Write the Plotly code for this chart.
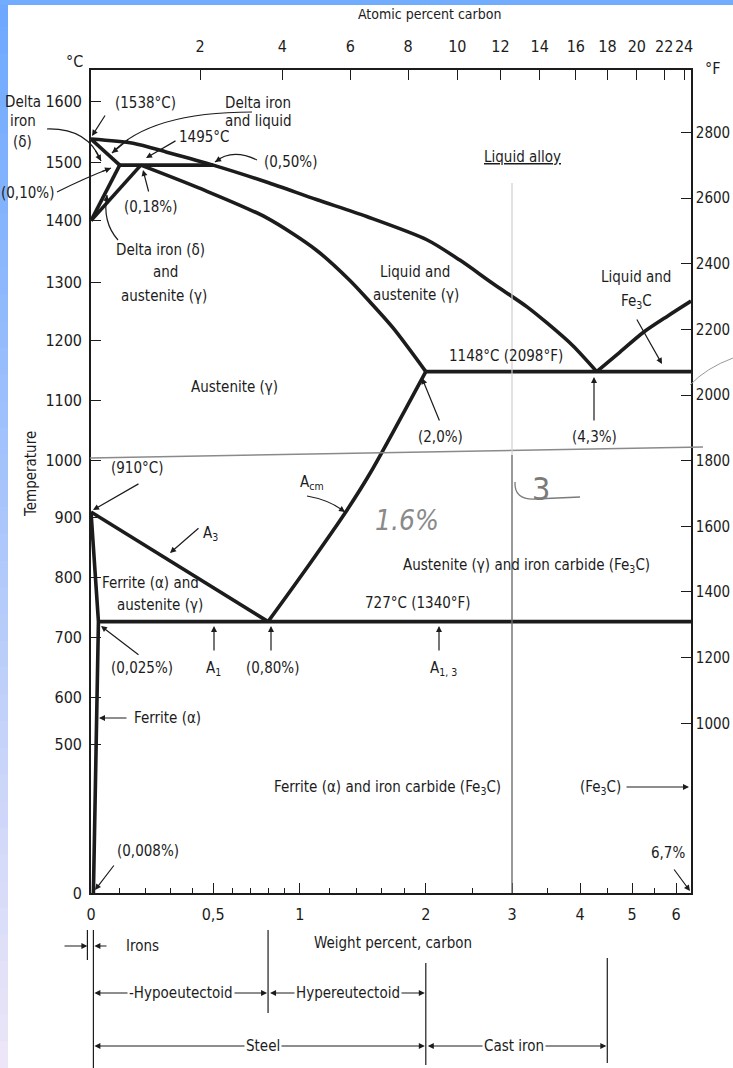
import numpy as np
import plotly.graph_objects as go

# --- printed axis scales (the original chart is non-linear in both directions) ---
WT_SCALE = [0, 1, 2, 3, 4, 5, 6, 6.67]                 # weight percent carbon
WT_SCALE_POS = [0, 0.348, 0.558, 0.702, 0.815, 0.902, 0.975, 1.0]
T_SCALE = [0, 500, 600, 700, 800, 900, 1000, 1100, 1200, 1300, 1400, 1500, 1600, 1652]
T_SCALE_POS = [0, 0.180, 0.238, 0.310, 0.383, 0.456, 0.526, 0.599, 0.671, 0.742,
               0.817, 0.888, 0.962, 1.0]
F_RANGE = [483, 2990]                                   # right axis is linear in deg F

# --- ticks ---
WT_TICKS = [0, 0.5, 1, 2, 3, 4, 5, 6]
WT_TICK_LABELS = ["0", "0,5", "1", "2", "3", "4", "5", "6"]
WT_MINOR = [0.1, 0.2, 0.3, 0.4, 0.6, 0.7, 0.8, 0.9, 1.2, 1.4, 1.6, 1.8, 2.5, 3.5, 4.5, 5.5]
AT_TICKS = [2, 4, 6, 8, 10, 12, 14, 16, 18, 20, 22, 24]
C_TICKS = [0, 500, 600, 700, 800, 900, 1000, 1100, 1200, 1300, 1400, 1500, 1600]
F_TICKS = [1000, 1200, 1400, 1600, 1800, 2000, 2200, 2400, 2600, 2800]

# --- phase boundaries (wt % C, deg C) ---
LIQUIDUS_WT = [0, 0.15, 0.29, 0.5, 0.79, 1.11, 1.48, 2.01, 2.36, 2.75, 3.2, 3.49, 3.88, 4.3]
LIQUIDUS_T = [1538, 1531, 1516, 1495, 1466, 1436, 1407, 1369, 1336, 1298, 1258, 1230, 1192, 1148]
FE3C_LIQ_WT = [4.3, 4.75, 5.25, 5.81, 6.67]
FE3C_LIQ_T = [1148, 1181, 1215, 1243, 1268]
AUST_SOLIDUS_WT = [0.18, 0.43, 0.79, 1.11, 1.35, 1.5, 1.7, 2.0]
AUST_SOLIDUS_T = [1495, 1456, 1405, 1352, 1303, 1268, 1222, 1148]
DELTA_SOLIDUS_WT = [0, 0.10]
DELTA_SOLIDUS_T = [1538, 1495]
PERITECTIC_WT = [0.10, 0.50]
PERITECTIC_T = [1495, 1495]
DELTA_SOLVUS_WT = [0.10, 0]
DELTA_SOLVUS_T = [1495, 1400]
GAMMA_DELTA_WT = [0.18, 0]
GAMMA_DELTA_T = [1495, 1400]
EUTECTIC_WT = [2.0, 6.67]
EUTECTIC_T = [1148, 1148]
ACM_WT = [0.8, 1.0, 1.33, 1.51, 2.0]
ACM_T = [727, 800, 914, 978, 1148]
A3_WT = [0, 0.8]
A3_T = [910, 727]
ALPHA_WT = [0, 0.025, 0.008]
ALPHA_T = [910, 727, 0]
EUTECTOID_WT = [0.025, 6.67]
EUTECTOID_T = [727, 727]

# class limits shown under the chart
IRON_LIMIT, EUTECTOID_WT_PCT, STEEL_LIMIT, CAST_LIMIT = 0.008, 0.8, 2.0, 4.5

INK = "#1c1c1c"
FONT = "Liberation Sans Narrow, Arial Narrow, DejaVu Sans Condensed, Liberation Sans, sans-serif"
W, H = 733, 1068
L, R, T, B = 91, 691, 70, 893   # plot frame in page pixels


def xu(wt):
    return np.interp(np.log1p(np.asarray(wt, float)), np.log1p(WT_SCALE), WT_SCALE_POS)


def yv(t):
    return np.interp(np.asarray(t, float), T_SCALE, T_SCALE_POS)


def at_to_wt(at):
    at = np.asarray(at, float)
    return 100 * 12 * at / (12 * at + 55.85 * (100 - at))


def pp(x, y):
    return (x - L) / (R - L), (B - y) / (B - T)


def xpix(wt):
    return L + float(xu(wt)) * (R - L)


fig = go.Figure()

curved = [(LIQUIDUS_WT, LIQUIDUS_T), (FE3C_LIQ_WT, FE3C_LIQ_T),
          (AUST_SOLIDUS_WT, AUST_SOLIDUS_T), (ACM_WT, ACM_T)]
straight = [(DELTA_SOLIDUS_WT, DELTA_SOLIDUS_T), (PERITECTIC_WT, PERITECTIC_T),
            (DELTA_SOLVUS_WT, DELTA_SOLVUS_T), (GAMMA_DELTA_WT, GAMMA_DELTA_T),
            (EUTECTIC_WT, EUTECTIC_T), (A3_WT, A3_T), (ALPHA_WT, ALPHA_T),
            (EUTECTOID_WT, EUTECTOID_T)]
for group, shape in ((curved, "spline"), (straight, "linear")):
    for wt, temp in group:
        fig.add_trace(go.Scatter(
            x=xu(wt), y=yv(temp), mode="lines",
            line=dict(color=INK, width=3.6, shape=shape, smoothing=0.8),
            cliponaxis=False, hoverinfo="skip",
        ))
# carrier trace for the top / right axes
fig.add_trace(go.Scatter(x=[], y=[], xaxis="x2", yaxis="y2", hoverinfo="skip"))

annotations, shapes = [], []


def label(text, x, y, size=15, color=INK, **kw):
    xp, yp = pp(x, y)
    annotations.append(dict(text=text, x=xp, y=yp, xref="paper", yref="paper",
                            xanchor="center", yanchor="middle", showarrow=False,
                            font=dict(size=size, family=FONT, color=color), **kw))


def arrow(tail, head, width=1.2):
    hx, hy = pp(*head)
    annotations.append(dict(text="", x=hx, y=hy, xref="paper", yref="paper",
                            ax=tail[0] - head[0], ay=tail[1] - head[1],
                            axref="pixel", ayref="pixel", showarrow=True, arrowhead=2,
                            arrowsize=1, arrowwidth=width, arrowcolor=INK, standoff=0))


def line(p0, p1, color=INK, width=1.2):
    (x0, y0), (x1, y1) = pp(*p0), pp(*p1)
    shapes.append(dict(type="line", xref="paper", yref="paper", x0=x0, y0=y0, x1=x1, y1=y1,
                       line=dict(color=color, width=width)))


def curve(p0, c, p1, color=INK, width=1.2, head=True):
    (x0, y0), (cx, cy), (x1, y1) = pp(*p0), pp(*c), pp(*p1)
    shapes.append(dict(type="path", xref="paper", yref="paper",
                       path=f"M{x0},{y0} Q{cx},{cy} {x1},{y1}",
                       line=dict(color=color, width=width)))
    if head:
        t = 0.8
        bx = (1 - t) ** 2 * p0[0] + 2 * (1 - t) * t * c[0] + t * t * p1[0]
        by = (1 - t) ** 2 * p0[1] + 2 * (1 - t) * t * c[1] + t * t * p1[1]
        arrow((bx, by), p1)


def span(x0, x1, y, text, cx):
    arrow((cx, y), (x0, y))
    arrow((cx, y), (x1, y))
    label(text, cx, y, bgcolor="white", borderpad=1)


# page decoration (blue slide border)
top_c, bot_c = np.array([110, 169, 255]), np.array([236, 230, 248])
n = 40
for i in range(n):
    c = top_c + (bot_c - top_c) * (i / (n - 1))
    y0, y1 = H * i / n, H * (i + 1) / n + 1
    (x0, py0), (x1, py1) = pp(0, y0), pp(8, y1)
    shapes.append(dict(type="rect", xref="paper", yref="paper", x0=x0, x1=x1, y0=py0, y1=py1,
                       fillcolor=f"rgb({int(c[0])},{int(c[1])},{int(c[2])})",
                       line=dict(width=0), layer="below"))
(x0, y0), (x1, y1) = pp(0, 0), pp(W, 5)
shapes.append(dict(type="rect", xref="paper", yref="paper", x0=x0, x1=x1, y0=y1, y1=y0,
                   fillcolor="rgb(114,172,255)", line=dict(width=0), layer="below"))

# pencil marks on the scan
line((90, 458), (703, 447), color="#8a8a8a", width=1.4)
line((512, 183), (512, 455), color="#cfcfcf", width=1.2)
line((512, 455), (512, 893), color="#6e6e6e", width=1.4)
curve((515, 482), (514, 500), (535, 499), color="#7a7a7a", width=1.3, head=False)
line((535, 499), (580, 497), color="#7a7a7a", width=1.3)
curve((690, 385), (706, 368), (733, 358), color="#9a9a9a", width=1.0, head=False)
label("<i>1.6%</i>", 407, 520, size=28, color="#8a8a8a")
label("3", 541, 489, size=32, color="#7a7a7a")

# titles
label("Atomic percent carbon", 430, 14, size=14)
label("°C", 74, 62, size=16)
label("°F", 712, 68, size=16)
label("Temperature", 31, 474, size=15, textangle=-90)

# labels and leaders in the chart
label("Delta", 23, 102)
label("iron", 23, 121)
label("(δ)", 22, 142)
curve((47, 129), (88, 128), (101, 161))
label("(0,10%)", 27, 193)
curve((57, 192), (85, 178), (111, 168))
label("(1538°C)", 145, 103)
arrow((106, 114), (92, 136))
label("Delta iron", 258, 103)
label("and liquid", 258, 121)
curve((252, 112), (150, 112), (112, 153))
label("1495°C", 204, 137)
arrow((177, 140), (146, 158))
label("(0,50%)", 290, 162)
curve((257, 160), (232, 148), (215, 162))
label("(0,18%)", 150, 207)
arrow((149, 193), (143, 170))
label("Delta iron (δ)", 160, 250)
label("and", 165, 272)
label("austenite (γ)", 164, 296)
curve((118, 240), (102, 222), (107, 195))
label("<u>Liquid alloy</u>", 522, 157)
label("Liquid and", 415, 272)
label("austenite (γ)", 416, 295)
label("Liquid and", 636, 277)
label("Fe<sub>3</sub>C", 636, 301)
arrow((636, 318), (662, 364))
label("1148°C (2098°F)", 506, 356)
label("Austenite (γ)", 234, 387)
label("(2,0%)", 440, 437)
arrow((440, 422), (422, 378))
label("(4,3%)", 594, 437)
arrow((594, 422), (594, 377))
label("(910°C)", 137, 468)
arrow((140, 483), (93, 510))
label("A<sub>cm</sub>", 312, 483)
curve((307, 496), (330, 500), (345, 512))
label("A<sub>3</sub>", 210, 533)
arrow((200, 527), (170, 553))
label("Ferrite (α) and", 150, 583)
label("austenite (γ)", 160, 605)
label("727°C (1340°F)", 418, 603)
label("Austenite (γ) and iron carbide (Fe<sub>3</sub>C)", 526, 565)
label("(0,025%)", 142, 668)
arrow((140, 656), (101, 626))
label("A<sub>1</sub>", 213, 668)
arrow((214, 652), (214, 626))
label("(0,80%)", 272, 668)
arrow((271, 652), (271, 626))
label("A<sub>1, 3</sub>", 443, 668)
arrow((439, 652), (439, 626))
label("Ferrite (α)", 167, 718)
arrow((128, 718), (99, 718))
label("Ferrite (α) and iron carbide (Fe<sub>3</sub>C)", 387, 787)
label("(Fe<sub>3</sub>C)", 600, 787)
arrow((625, 787), (689, 787))
label("(0,008%)", 148, 851)
arrow((115, 864), (95, 890))
label("6,7%", 668, 853)
arrow((673, 868), (690, 891))

# classification under the chart
xi, xe, xs, xc = xpix(IRON_LIMIT), xpix(EUTECTOID_WT_PCT), xpix(STEEL_LIMIT), xpix(CAST_LIMIT)
line((xi - 6, 930), (xi - 6, 960))
line((xi, 930), (xi, 1068))
line((xe, 930), (xe, 1013))
line((xs, 963), (xs, 1065))
line((xc, 958), (xc, 1063))
arrow((63, 946), (xi - 6, 946))
arrow((108, 946), (xi + 1, 946))
label("Irons", 142, 946)
label("Weight percent, carbon", 393, 943)
span(xi + 1, xe - 1, 993, "-Hypoeutectoid", 181)
span(xe + 2, xs - 1, 993, "Hypereutectoid", 348)
span(xi + 1, xs - 1, 1046, "Steel", 263)
span(xs + 2, xc - 1, 1046, "Cast iron", 514)

axis_common = dict(
    showline=True, linecolor=INK, linewidth=1.6, mirror=False, showgrid=False,
    zeroline=False, ticks="inside", tickcolor=INK, tickwidth=1.3, ticklen=10,
    tickfont=dict(family=FONT, size=16, color=INK), tickmode="array", tickangle=0,
    automargin=False,
)
fig.update_layout(
    width=W, height=H, autosize=False,
    margin=dict(l=L, r=W - R, t=T, b=H - B, pad=0, autoexpand=False),
    paper_bgcolor="white", plot_bgcolor="white", showlegend=False,
    annotations=annotations, shapes=shapes,
    xaxis=dict(range=[0, 1], tickvals=xu(WT_TICKS), ticktext=WT_TICK_LABELS,
               ticklabelstandoff=6,
               minor=dict(tickmode="array", tickvals=xu(WT_MINOR), ticks="inside",
                          ticklen=5, tickcolor=INK, tickwidth=1.1, showgrid=False),
               **axis_common),
    xaxis2=dict(range=[0, 1], overlaying="x", side="top", anchor="y",
                tickvals=xu(at_to_wt(AT_TICKS)), ticktext=[str(a) for a in AT_TICKS],
                ticklabelstandoff=10, **axis_common),
    yaxis=dict(range=[0, 1], tickvals=yv(C_TICKS), ticktext=[str(c) for c in C_TICKS],
               ticklabelstandoff=4, **axis_common),
    yaxis2=dict(range=F_RANGE, overlaying="y", side="right", anchor="x",
                tickvals=F_TICKS, ticktext=[str(f) for f in F_TICKS],
                ticklabelstandoff=0, **axis_common),
)
fig.update_layout(yaxis2_tickfont_size=15)

# the page body has a default 8px margin and may show scrollbars; remove both
# so the chart occupies the whole window at its own size
post = ("document.documentElement.style.overflow='hidden';"
        "document.body.style.margin='0';document.body.style.overflow='hidden';"
        "var gd=document.getElementById('{plot_id}');"
        "gd.style.width='%dpx';gd.style.height='%dpx';"
        "Plotly.relayout(gd, {width: %d, height: %d, autosize: false});" % (W, H, W, H))
fig.write_html("out.html", post_script=post,
               config={"responsive": False, "displayModeBar": False})
